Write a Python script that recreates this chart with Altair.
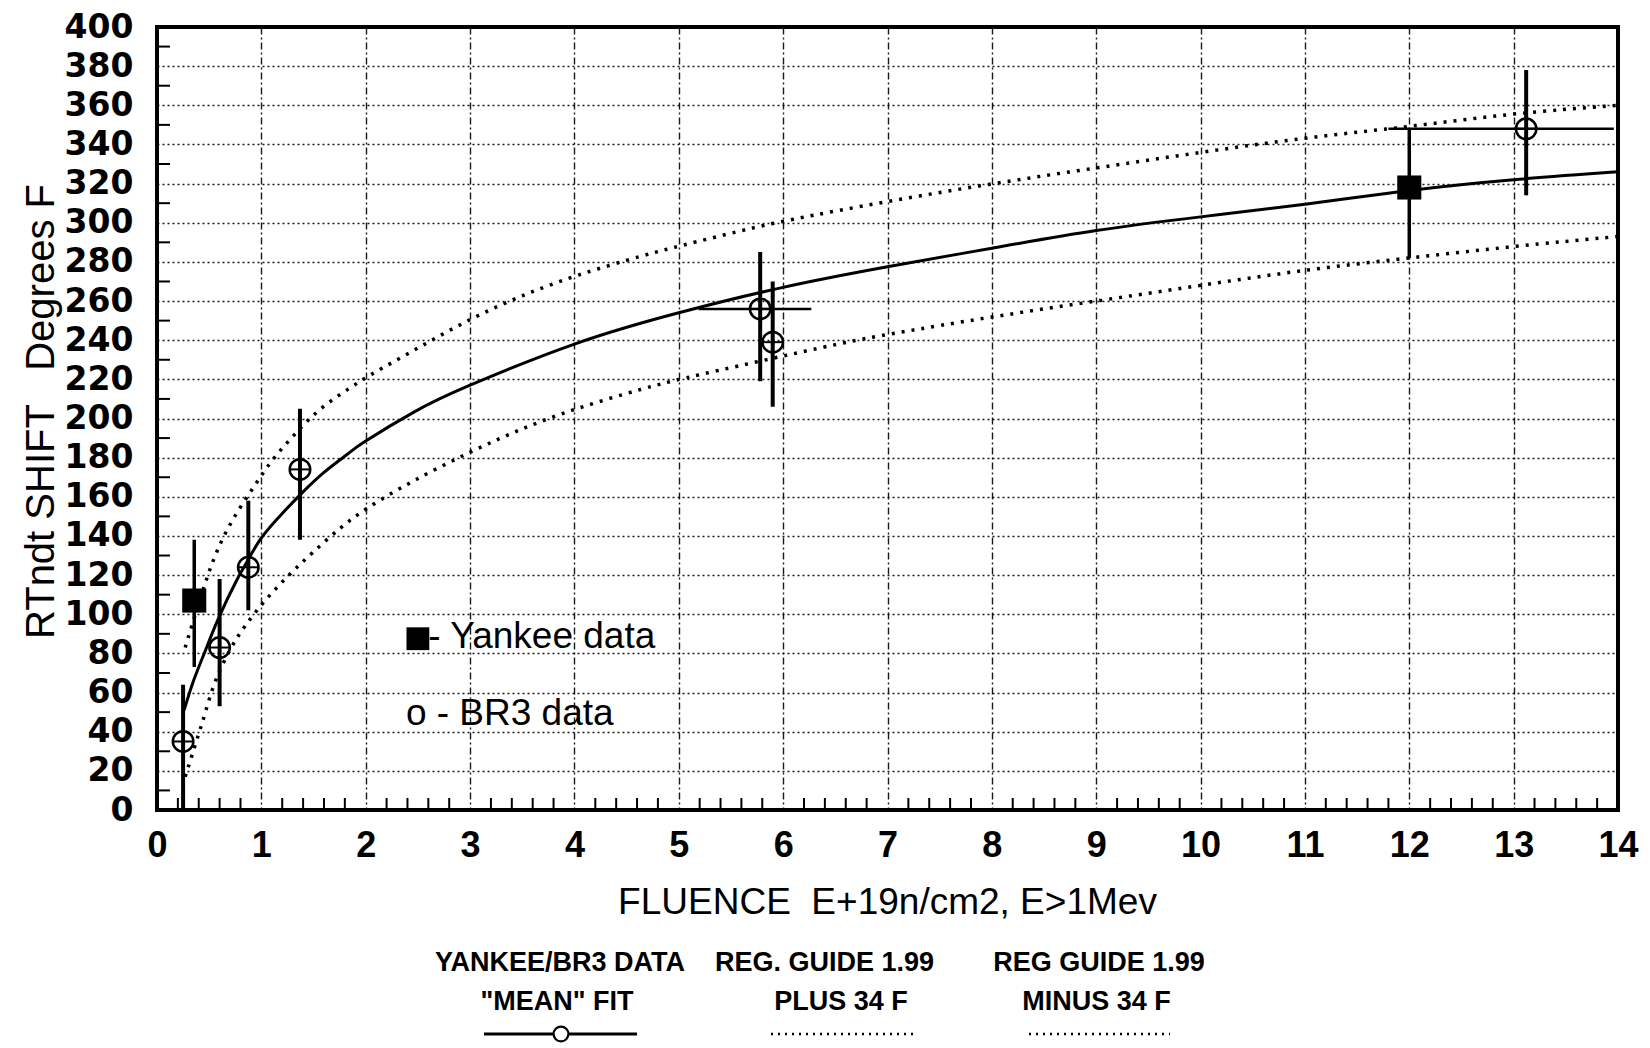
import altair as alt
import pandas as pd

# ---------------- data ----------------
# Yankee/BR3 "mean" fit (solid)
mean_x = [0.26, 0.35, 0.46, 0.59, 0.76, 0.87, 1.0, 1.2, 1.39, 1.6, 1.83, 2.0, 2.47, 3.0, 4.0, 5.0,
          6.0, 7.0, 8.0, 9.0, 10.0, 11.0, 12.0, 13.0, 14.0]
mean_y = [51, 66, 81, 98, 117, 127.5, 139, 151.5, 162, 172.5, 182, 188.5, 203.5, 217, 238, 254,
          267, 277.5, 287, 296, 303, 309.5, 316.5, 322, 326]

# Reg. Guide 1.99 plus 34 F (dotted, upper)
plus_x = [0.27, 0.35, 0.49, 0.6, 0.75, 0.94, 1.1, 1.32, 1.55, 1.86, 2.0, 2.5, 3.0, 3.5, 4.0,
          4.7, 5.0, 5.6, 6.0, 7.0, 8.0, 9.0, 10.0, 11.0, 12.0, 13.0, 14.0]
plus_y = [83, 97, 121, 136, 151, 166, 179, 192, 205, 216, 221, 236, 251, 263, 273,
          284, 288, 296, 301, 311, 320, 328, 336, 343.5, 349, 356, 360]

# Reg. Guide 1.99 minus 34 F (dotted, lower)
minus_x = [0.27, 0.33, 0.4, 0.46, 0.55, 0.71, 0.84, 1.03, 1.26, 1.48, 1.77, 2.0, 2.44, 3.0, 3.5,
           4.0, 4.7, 5.0, 5.75, 6.6, 7.0, 8.0, 9.0, 10.0, 11.0, 12.0, 13.0, 14.0]
minus_y = [17, 27, 39, 49, 66, 83.5, 94, 107, 120, 131, 145, 154, 168, 183, 195,
           205, 216, 220, 229, 239, 243, 252, 260, 268, 276, 282, 288, 293]

# BR3 data (open circles) with vertical error bars
br3_x = [0.25, 0.6, 0.875, 1.37, 5.78, 5.9, 13.12]
br3_y = [35, 83, 124, 174, 256, 239, 348]
br3_lo = [0, 53, 102, 138, 219, 206, 314]
br3_hi = [64, 118, 158, 205, 285, 270, 378]

# horizontal error bars (BR3)
hbar_y = [256, 348]
hbar_x1 = [5.19, 11.8]
hbar_x2 = [6.27, 13.96]

# Yankee data (filled squares) with vertical error bars
yk_x = [0.357, 12.0]
yk_y = [107, 318]
yk_lo = [73, 282]
yk_hi = [138, 348]

# axis ticks
x_ticks = list(range(0, 15))
y_ticks = list(range(0, 401, 20))
x_minor = [round(i * 0.2, 1) for i in range(1, 70) if i % 5 != 0]
y_minor = list(range(10, 400, 20))

# in-plot key
key_sq_x, key_sq_y = [2.5], [87.5]
key_text = ["- Yankee data", "o - BR3 data"]
key_tx = [2.6, 2.385]
key_ty = [88.4, 48.8]

# bottom legend labels
leg_row1 = ["YANKEE/BR3 DATA", "REG. GUIDE 1.99", "REG GUIDE 1.99"]
leg_row2 = ['"MEAN" FIT', "PLUS 34 F", "MINUS 34 F"]

# ---------------- chart ----------------
W, H = 1461, 783
FONT = "Liberation Sans"

xs = alt.Scale(domain=[0, 14], nice=False, zero=False)
ys = alt.Scale(domain=[0, 400], nice=False)

mean_df = pd.DataFrame({"x": mean_x, "y": mean_y})
plus_df = pd.DataFrame({"x": plus_x, "y": plus_y})
minus_df = pd.DataFrame({"x": minus_x, "y": minus_y})
br3_df = pd.DataFrame({"x": br3_x, "y": br3_y, "lo": br3_lo, "hi": br3_hi})
hbar_df = pd.DataFrame({"y": hbar_y, "x1": hbar_x1, "x2": hbar_x2})
yk_df = pd.DataFrame({"x": yk_x, "y": yk_y, "lo": yk_lo, "hi": yk_hi})

x_axis = alt.Axis(values=x_ticks, format="d", grid=True, gridColor="black", gridDash=[7, 3, 2, 3],
                  gridWidth=1.4, gridOpacity=0.9, ticks=False, domain=False,
                  labelFont=FONT, labelFontSize=36, labelFontWeight="bold", labelColor="black",
                  labelPadding=18, labelFlush=False, labelOverlap=False,
                  title="FLUENCE\u00a0 E+19n/cm2, E>1Mev", titleFont=FONT, titleFontSize=37,
                  titleFontWeight="normal", titleColor="black", titleX=730, titleY=92,
                  titleBaseline="middle", titleAlign="center")
y_axis = alt.Axis(values=y_ticks, format="d", grid=True, gridColor="black", gridDash=[2, 3],
                  gridWidth=1.4, gridOpacity=0.9, ticks=False, domain=False,
                  labelFont="DejaVu Sans", labelFontSize=33, labelFontWeight="bold", labelColor="black",
                  labelPadding=24, labelFlush=False, labelBaseline="middle", labelOverlap=False,
                  labelSeparation=0, labelBound=False,
                  title="RTndt SHIFT\u00a0\u00a0 Degrees F", titleFont=FONT, titleFontSize=40,
                  titleFontWeight="normal", titleColor="black", titleX=-116, titleY=384,
                  titleAngle=270, titleBaseline="middle", titleAlign="center")

XS = dict(scale=xs, axis=x_axis)
YS = dict(scale=ys, axis=y_axis)

mean_line = alt.Chart(mean_df).mark_line(color="black", strokeWidth=3, interpolate="natural").encode(
    x=alt.X("x:Q", **XS), y=alt.Y("y:Q", **YS))
plus_line = alt.Chart(plus_df).mark_line(color="black", strokeWidth=3.5, strokeDash=[3, 7],
                                         interpolate="basis").encode(
    x=alt.X("x:Q", **XS), y=alt.Y("y:Q", **YS))
minus_line = alt.Chart(minus_df).mark_line(color="black", strokeWidth=3.5, strokeDash=[3, 7],
                                           interpolate="basis").encode(
    x=alt.X("x:Q", **XS), y=alt.Y("y:Q", **YS))

xminor = alt.Chart(pd.DataFrame({"x": x_minor})).mark_rule(color="black", strokeWidth=2).encode(
    x=alt.X("x:Q", **XS), y=alt.value(H), y2=alt.value(H - 12))
yminor = alt.Chart(pd.DataFrame({"y": y_minor})).mark_rule(color="black", strokeWidth=2).encode(
    y=alt.Y("y:Q", **YS), x=alt.value(0), x2=alt.value(13))

br3_bars = alt.Chart(br3_df).mark_rule(color="black", strokeWidth=4).encode(
    x=alt.X("x:Q", **XS), y=alt.Y("lo:Q", **YS), y2="hi:Q")
br3_hbars = alt.Chart(hbar_df).mark_rule(color="black", strokeWidth=2.5).encode(
    x=alt.X("x1:Q", **XS), x2="x2:Q", y=alt.Y("y:Q", **YS))
br3_pts = alt.Chart(br3_df).mark_point(shape="circle", filled=False, size=420, color="black",
                                       strokeWidth=2.5, opacity=1).encode(
    x=alt.X("x:Q", **XS), y=alt.Y("y:Q", **YS))
br3_cross = alt.Chart(br3_df).mark_point(shape="M-1,0L1,0", filled=False, size=420, color="black",
                                         strokeWidth=2, opacity=1).encode(
    x=alt.X("x:Q", **XS), y=alt.Y("y:Q", **YS))

yk_bars = alt.Chart(yk_df).mark_rule(color="black", strokeWidth=3.5).encode(
    x=alt.X("x:Q", **XS), y=alt.Y("lo:Q", **YS), y2="hi:Q")
yk_pts = alt.Chart(yk_df).mark_square(size=580, color="black", opacity=1).encode(
    x=alt.X("x:Q", **XS), y=alt.Y("y:Q", **YS))

key_sq = alt.Chart(pd.DataFrame({"x": key_sq_x, "y": key_sq_y})).mark_square(
    size=520, color="black", opacity=1).encode(x=alt.X("x:Q", **XS), y=alt.Y("y:Q", **YS))
key_txt = alt.Chart(pd.DataFrame({"x": key_tx, "y": key_ty, "t": key_text})).mark_text(
    align="left", baseline="middle", font=FONT, fontSize=37, color="black").encode(
    x=alt.X("x:Q", **XS), y=alt.Y("y:Q", **YS), text="t:N")

one = pd.DataFrame({"a": [0]})
leg_layers = []
row1_x = [403, 667.5, 942]
row2_x = [400, 684, 939.5]
for lbl, px in zip(leg_row1, row1_x):
    leg_layers.append(alt.Chart(one).mark_text(text=lbl, font=FONT, fontSize=27, fontWeight="bold",
                                               color="black", align="center", baseline="middle").encode(
        x=alt.value(px), y=alt.value(936)))
for lbl, px in zip(leg_row2, row2_x):
    leg_layers.append(alt.Chart(one).mark_text(text=lbl, font=FONT, fontSize=27, fontWeight="bold",
                                               color="black", align="center", baseline="middle").encode(
        x=alt.value(px), y=alt.value(975)))
leg_layers.append(alt.Chart(one).mark_rule(color="black", strokeWidth=3).encode(
    x=alt.value(327), x2=alt.value(480), y=alt.value(1007)))
leg_layers.append(alt.Chart(one).mark_point(shape="circle", filled=True, fill="white", stroke="black",
                                            size=220, strokeWidth=2.2, opacity=1).encode(
    x=alt.value(404), y=alt.value(1007)))
leg_layers.append(alt.Chart(one).mark_rule(color="black", strokeWidth=2.5, strokeDash=[2, 5]).encode(
    x=alt.value(614), x2=alt.value(756), y=alt.value(1007)))
leg_layers.append(alt.Chart(one).mark_rule(color="black", strokeWidth=2.5, strokeDash=[2, 5]).encode(
    x=alt.value(872), x2=alt.value(1013), y=alt.value(1007)))

chart = alt.layer(
    mean_line, xminor, yminor, plus_line, minus_line, br3_bars, br3_hbars, br3_pts, br3_cross,
    yk_bars, yk_pts, key_sq, key_txt, *leg_layers
).properties(
    width=W, height=H,
    autosize=alt.AutoSizeParams(type="none"),
    padding={"left": 157, "top": 27, "right": 32, "bottom": 238},
    background="white",
).configure_view(stroke="black", strokeWidth=4).configure_axis(labelOverlap=False)

chart.save("out.html", embed_options={"renderer": "svg", "actions": False})
